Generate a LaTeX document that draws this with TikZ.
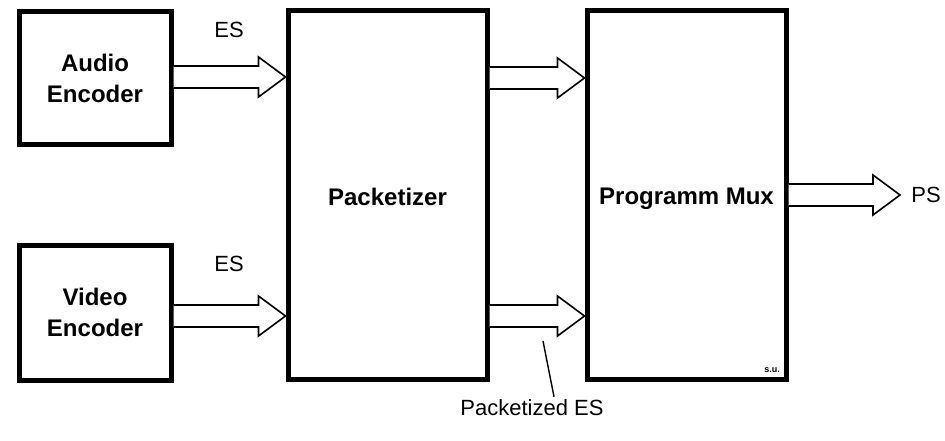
\documentclass[tikz,border=0pt]{standalone}
\usepackage{fontspec}
\setmainfont{Liberation Sans}
\usetikzlibrary{calc}
\tikzset{
  blockbox/.style={draw=black, line width=5pt, fill=white, inner sep=0pt,
    font=\bfseries\fontsize{24}{31}\selectfont, align=center},
  fat/.style={draw=black, line width=1.6pt, fill=white, line join=miter},
  lbl/.style={inner sep=0pt, font=\fontsize{22}{26}\selectfont},
}
\newcommand\fatarr[3]{%
  \draw[fat] ($(#1 |- 0,#3)+(0,-11)$) -- ($(#2 |- 0,#3)+(-27,-11)$)
    -- ($(#2 |- 0,#3)+(-27,-20)$) -- (#2 |- 0,#3)
    -- ($(#2 |- 0,#3)+(-27,20)$) -- ($(#2 |- 0,#3)+(-27,11)$)
    -- ($(#1 |- 0,#3)+(0,11)$);}
\begin{document}
\begin{tikzpicture}[x=1pt, y=-1pt]
  \fill[white] (0,0) rectangle (945,441);
  \useasboundingbox (0,0) rectangle (945,441);

  \node[blockbox, minimum width=152pt, minimum height=133pt] (audio) at (95,78.5) {Audio\\Encoder};
  \node[blockbox, minimum width=152pt, minimum height=135pt] (video) at (95,312.5) {Video\\Encoder};
  \node[blockbox, minimum width=199pt, minimum height=368pt] (pack) at (387.5,195) {\raisebox{-2pt}[\height][\depth]{Packetizer}};
  \node[blockbox, minimum width=199pt, minimum height=368pt] (mux) at (686.5,195) {\raisebox{-4pt}[\height][\depth]{Programm Mux}};

  \coordinate (pstip) at (900,195);
  \fatarr{audio.east}{pack.west}{77}
  \fatarr{video.east}{pack.west}{316}
  \fatarr{pack.east}{mux.west}{78}
  \fatarr{pack.east}{mux.west}{316}
  \fatarr{mux.east}{pstip}{195}

  \node[lbl] (es1) at (229,30) {ES};
  \node[lbl] (es2) at (229,264) {ES};
  \node[lbl] (ps) at (926,195) {PS};
  \node[lbl] (pes) at (532,408) {Packetized ES};
  \node[inner sep=0pt, font=\bfseries\fontsize{9}{10}\selectfont] (su) at (772,370) {s.u.};

  \coordinate (ptr) at (543,341);
  \draw[line width=1.4pt] (ptr) -- ([xshift=22pt,yshift=3pt]pes.north);
\end{tikzpicture}
\end{document}
